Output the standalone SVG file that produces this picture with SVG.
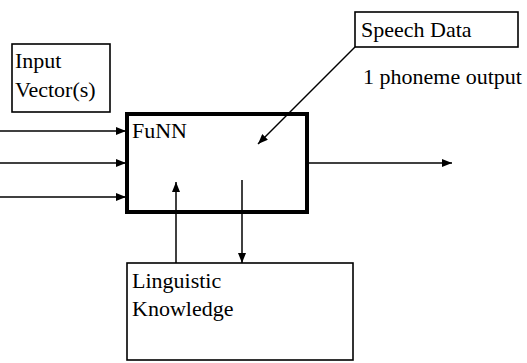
<svg xmlns="http://www.w3.org/2000/svg" width="527" height="363" viewBox="0 0 527 363">
<style>
  .box{fill:#fff;stroke:#000;stroke-width:1.6}
  .lbl{font-family:"Liberation Serif","Times New Roman",serif;font-size:22px;fill:#000}
  .con{stroke:#000;stroke-width:1.5;fill:none}
</style>
<defs>
  <marker id="ah" viewBox="0 0 10 8" refX="10" refY="4" markerWidth="10" markerHeight="8" markerUnits="userSpaceOnUse" orient="auto">
    <path d="M0,0 L10,4 L0,8 z" fill="#000"/>
  </marker>
</defs>
<g id="input-vectors">
  <rect class="box" x="12" y="44" width="98" height="68"/>
  <text class="lbl" x="15" y="68">Input</text>
  <text class="lbl" x="15" y="97">Vector(s)</text>
</g>
<g id="speech-data">
  <rect class="box" x="355" y="12" width="163" height="35"/>
  <text class="lbl" x="361" y="37">Speech Data</text>
</g>
<g id="linguistic-knowledge">
  <rect class="box" x="127" y="263" width="226" height="97"/>
  <text class="lbl" x="132" y="288">Linguistic</text>
  <text class="lbl" x="132" y="316">Knowledge</text>
</g>
<g id="connectors">
  <line class="con" x1="0" y1="131" x2="126" y2="131" marker-end="url(#ah)"/>
  <line class="con" x1="0" y1="163" x2="126" y2="163" marker-end="url(#ah)"/>
  <line class="con" x1="0" y1="197" x2="126" y2="197" marker-end="url(#ah)"/>
  <line class="con" x1="355" y1="47" x2="258" y2="144" marker-end="url(#ah)"/>
  <line class="con" x1="307" y1="163" x2="452" y2="163" marker-end="url(#ah)"/>
  <line class="con" x1="176" y1="263" x2="176" y2="182" marker-end="url(#ah)"/>
  <line class="con" x1="242" y1="180" x2="242" y2="263" marker-end="url(#ah)"/>
</g>
<g id="funn">
  <rect x="127" y="114" width="180" height="98" fill="none" stroke="#000" stroke-width="4"/>
  <text class="lbl" x="132" y="138">FuNN</text>
</g>
<text class="lbl" x="363" y="84">1 phoneme output</text>
</svg>
